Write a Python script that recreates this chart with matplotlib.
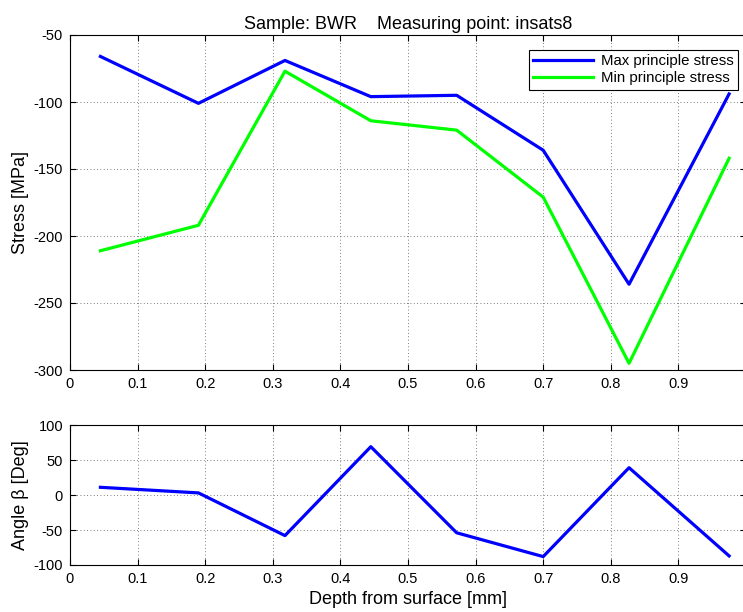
import matplotlib
matplotlib.use('Agg')
import matplotlib.pyplot as plt
import numpy as np

# Measurement depths [mm]
depth = [0.045, 0.19, 0.318, 0.445, 0.572, 0.70, 0.827, 0.975]

# Principal stresses [MPa]
max_stress = [-66, -101, -69, -96, -95, -136, -236, -94]
min_stress = [-211, -192, -77, -114, -121, -171, -295, -142]

# Principal direction angle [deg]
angle = [11, 3, -58, 69, -54, -88, 39, -87]

x_ticks = np.arange(0, 1.01, 0.1)
x_ticklabels = ['0', '0.1', '0.2', '0.3', '0.4', '0.5', '0.6', '0.7', '0.8', '0.9', '1']

plt.rcParams['font.family'] = ['Liberation Sans', 'DejaVu Sans']
plt.rcParams['font.size'] = 10.5
plt.rcParams['axes.unicode_minus'] = False

W, H = 743, 612
fig = plt.figure(figsize=(W / 100, H / 100), dpi=100)


def style_axes(ax):
    ax.set_xlim(0, 1)
    ax.set_xticks(x_ticks)
    ax.set_xticklabels(x_ticklabels)
    ax.tick_params(direction='in', top=True, right=True, length=4, width=0.8, pad=5)
    ax.grid(True, linestyle=(0, (1, 3)), color='#555555', linewidth=0.6)
    for s in ax.spines.values():
        s.set_linewidth(0.8)


ax1 = fig.add_axes([70 / W, 1 - 370 / H, 676 / W, 335 / H])
ax1.plot(depth, max_stress, color='#0000ff', lw=2.3, label='Max principle stress')
ax1.plot(depth, min_stress, color='#00ff00', lw=2.3, label='Min principle stress')
ax1.set_ylim(-300, -50)
ax1.set_yticks([-300, -250, -200, -150, -100, -50])
style_axes(ax1)
ax1.set_ylabel('Stress [MPa]', fontsize=13, labelpad=3)
ax1.set_title('Sample: BWR    Measuring point: insats8', fontsize=13, pad=4)
leg = ax1.legend(loc='upper right', bbox_to_anchor=(0.999, 0.978), handlelength=4.0,
                 fancybox=False, framealpha=1, edgecolor='black', borderpad=0.3,
                 labelspacing=0.2, handletextpad=0.5, fontsize=10.8)
leg.get_frame().set_linewidth(0.8)

ax2 = fig.add_axes([70 / W, 1 - 565 / H, 676 / W, 140 / H])
ax2.plot(depth, angle, color='#0000ff', lw=2.3)
ax2.set_ylim(-100, 100)
ax2.set_yticks([-100, -50, 0, 50, 100])
style_axes(ax2)
ax2.set_ylabel('Angle \u03b2 [Deg]', fontsize=13, labelpad=3)
ax2.set_xlabel('Depth from surface [mm]', fontsize=13, labelpad=4)

fig.savefig('out.png', dpi=100)
